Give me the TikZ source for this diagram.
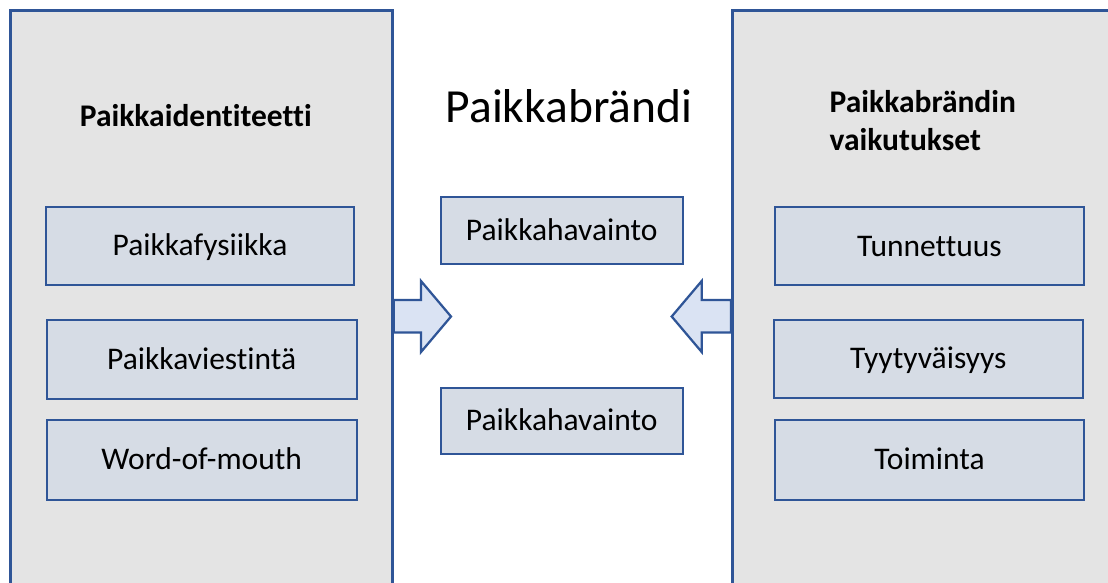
\documentclass[tikz,border=0pt]{standalone}
\usepackage{fontspec}
\setmainfont{Carlito}[Ligatures=NoCommon]
\definecolor{edgeblue}{HTML}{2F5597}
\definecolor{panelgray}{HTML}{E4E4E4}
\definecolor{boxfill}{HTML}{D6DCE5}
\definecolor{arrowfill}{HTML}{DAE3F3}
\tikzset{
  panel/.style={draw=edgeblue, fill=panelgray, line width=2.75pt, anchor=north west, inner sep=0pt, minimum width=#1, minimum height=620pt},
  itembox/.style={draw=edgeblue, fill=boxfill, line width=2pt, inner sep=0pt, minimum height=#1,
    font=\fontsize{31.5}{37.8}\selectfont, text height=22pt, text depth=2.6pt},
  blockarrow/.style={draw=edgeblue, fill=arrowfill, line width=2.25pt, line join=miter},
  heading/.style={inner sep=0pt, font=\bfseries\fontsize{31.5}{37.8}\selectfont},
}
\begin{document}
\begin{tikzpicture}[x=1pt, y=-1pt]
\useasboundingbox (0,0) rectangle (1108,582);
\fill[white] (0,0) rectangle (1108,582);
\clip (0,0) rectangle (1108,582);
% panels
\node[panel=382pt] (lp) at (9,9) {};
\node[panel=400pt] (rp) at (731,9) {};
% headings
\node[heading, anchor=base] (lh) at (195.8,126.7) {Paikkaidentiteetti};
\node[heading, anchor=base west] (rh1) at (829.5,112) {Paikkabrändin};
\node[heading, anchor=base west] (rh2) at (829.5,150) {vaikutukset};
\node[inner sep=0pt, anchor=base, font=\fontsize{47.5}{57}\selectfont] (title) at (569,122.7) {Paikkabrändi};
% left boxes
\node[itembox=78pt, minimum width=308pt] (l1) at (200,246) {Paikkafysiikka};
\node[itembox=79pt, minimum width=310pt] (l2) at (201.7,359.5) {Paikkaviestintä};
\node[itembox=80pt, minimum width=310pt] (l3) at (201.7,460) {Word-of-mouth};
% center boxes
\node[itembox=67.3pt, minimum width=242pt] (c1) at (561.7,230.3) {Paikkahavainto};
\node[itembox=66.3pt, minimum width=242pt] (c2) at (561.7,420.8) {Paikkahavainto};
% right boxes
\node[itembox=78pt, minimum width=309pt] (r1) at (929.5,246.3) {Tunnettuus};
\node[itembox=78.3pt, minimum width=308.7pt] (r2) at (928.3,359.2) {Tyytyväisyys};
\node[itembox=80pt, minimum width=309pt] (r3) at (929.5,460) {Toiminta};
% block arrows
\draw[blockarrow] (lp.east |- 0,300) -- (421,300) -- (421,281) -- (451,316.5) -- (421,352) -- (421,332.5) -- (lp.east |- 0,332.5) -- cycle;
\draw[blockarrow] (rp.west |- 0,300) -- (701.7,300) -- (701.7,281) -- (671.7,316.5) -- (701.7,352) -- (701.7,332.5) -- (rp.west |- 0,332.5) -- cycle;
\end{tikzpicture}
\end{document}
